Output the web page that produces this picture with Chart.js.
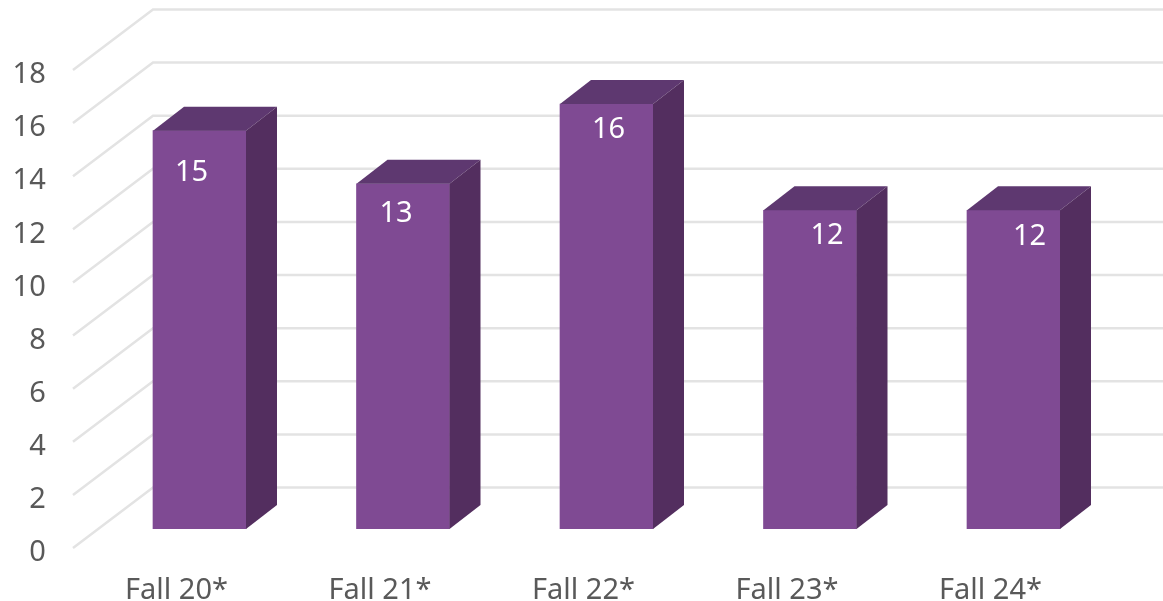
<!DOCTYPE html>
<html>
<head>
<meta charset="utf-8">
<title>Fall enrollment</title>
<script src="https://cdn.jsdelivr.net/npm/chart.js@4"></script>
<style>
    html, body { margin: 0; padding: 0; background: #ffffff; overflow: hidden; }
    canvas { display: block; }
</style>
</head>
<body>
<canvas id="myChart1" width="1163" height="601"></canvas>
<script>
const categories = ["Fall 20*", "Fall 21*", "Fall 22*", "Fall 23*", "Fall 24*"];
const values = [15, 13, 16, 12, 12];

// where each value label sits relative to the bar centre / bar top
const label_nudge_x = [-8, -7, 2, 17, 16];
const label_nudge_y = [42, 30, 26, 25, 26];

// the 3d look: bars stand on their own plane, walls are shifted from it
const BAR_DEPTH_X = 31;
const BAR_DEPTH_Y = 24;
const WALL_BACK_X = 153;
const WALL_BACK_Y = -41.5;
const WALL_FRONT_X = 73;
const WALL_FRONT_Y = 19;

const walls = {
    id: "walls",
    beforeDatasetsDraw(chart) {
        const ctx = chart.ctx;
        const yScale = chart.scales.y;
        ctx.save();
        ctx.strokeStyle = "#E3E3E3";
        ctx.lineWidth = 2.5;
        yScale.ticks.forEach(function (tick) {
            const y = yScale.getPixelForValue(tick.value);
            ctx.beginPath();
            ctx.moveTo(WALL_FRONT_X, y + WALL_FRONT_Y);
            ctx.lineTo(WALL_BACK_X, y + WALL_BACK_Y);
            ctx.lineTo(chart.width, y + WALL_BACK_Y);
            ctx.stroke();
        });
        ctx.restore();
    }
};

const bars3d = {
    id: "bars3d",
    afterDatasetsDraw(chart) {
        const ctx = chart.ctx;
        ctx.save();
        chart.getDatasetMeta(0).data.forEach(function (bar, i) {
            const left = bar.x - bar.width / 2;
            const right = bar.x + bar.width / 2;

            // top face
            ctx.fillStyle = "#5E3870";
            ctx.beginPath();
            ctx.moveTo(left, bar.y);
            ctx.lineTo(left + BAR_DEPTH_X, bar.y - BAR_DEPTH_Y);
            ctx.lineTo(right + BAR_DEPTH_X, bar.y - BAR_DEPTH_Y);
            ctx.lineTo(right, bar.y);
            ctx.closePath();
            ctx.fill();

            // side face
            ctx.fillStyle = "#532E5F";
            ctx.beginPath();
            ctx.moveTo(right, bar.y);
            ctx.lineTo(right + BAR_DEPTH_X, bar.y - BAR_DEPTH_Y);
            ctx.lineTo(right + BAR_DEPTH_X, bar.base - BAR_DEPTH_Y);
            ctx.lineTo(right, bar.base);
            ctx.closePath();
            ctx.fill();

            // value
            ctx.fillStyle = "#ffffff";
            ctx.font = "29px 'Noto Sans'";
            ctx.textAlign = "center";
            ctx.textBaseline = "middle";
            ctx.fillText(values[i], bar.x + label_nudge_x[i], bar.y + label_nudge_y[i]);
        });
        ctx.restore();
    }
};

const ctx = document.getElementById("myChart1").getContext("2d");
const myChart = new Chart(ctx, {
    type: "bar",
    data: {
        labels: categories,
        datasets: [{
            data: values,
            backgroundColor: "#7F4A93",
            barThickness: 93
        }]
    },
    plugins: [walls, bars3d],
    options: {
        responsive: false,
        animation: false,
        layout: { padding: { top: 51, right: 47.75, bottom: 0, left: 0 } },
        plugins: {
            legend: { display: false },
            tooltip: { enabled: false }
        },
        scales: {
            x: {
                grid: { display: false, drawTicks: false },
                border: { display: false },
                ticks: {
                    color: "#595959",
                    font: { family: "'Noto Sans'", size: 29 },
                    padding: 44,
                    labelOffset: -23,
                    maxRotation: 0,
                    autoSkip: false
                },
                afterFit(scale) { scale.height = 72; }
            },
            y: {
                min: 0,
                max: 18,
                grid: { display: false, drawTicks: false },
                border: { display: false },
                ticks: {
                    stepSize: 2,
                    color: "#595959",
                    font: { family: "'Noto Sans'", size: 29 },
                    padding: 52,
                    labelOffset: 24
                },
                afterFit(scale) {
                    scale.width = 97.75;
                    // ticks.padding also eats vertical room, undo that
                    scale.paddingTop = 0;
                    scale.paddingBottom = 0;
                }
            }
        }
    }
});
</script>
</body>
</html>
